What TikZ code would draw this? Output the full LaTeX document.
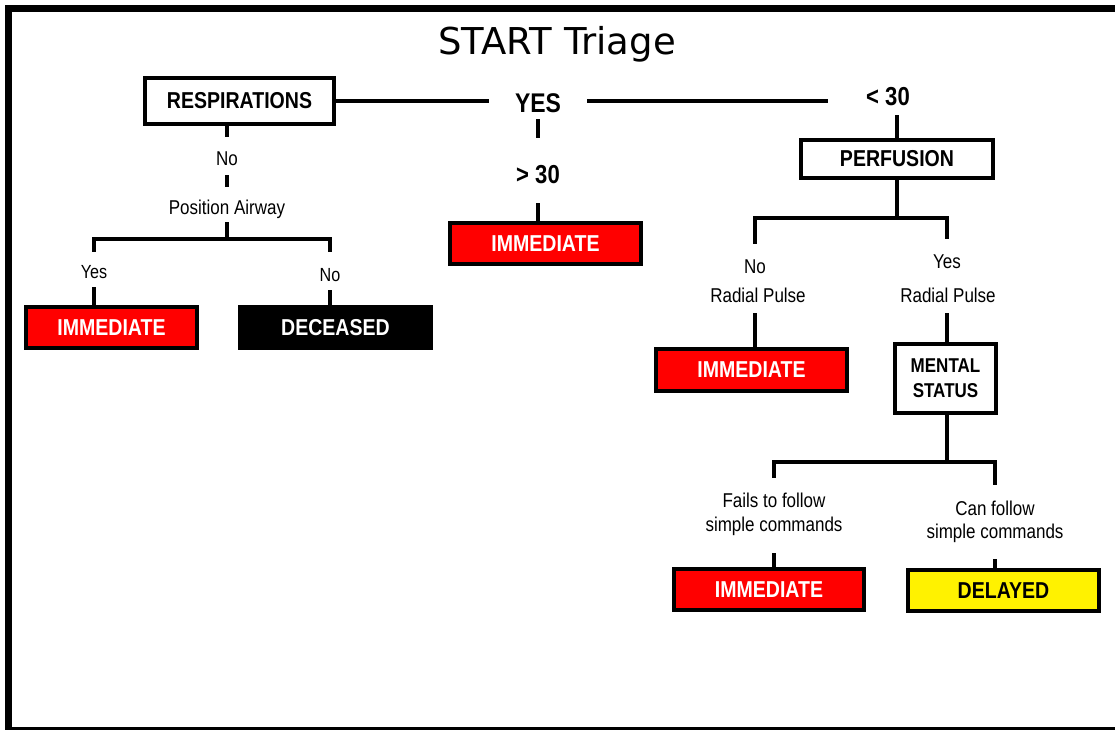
\documentclass[tikz,border=0pt]{standalone}
\usepackage{fontspec}
\setmainfont{Liberation Sans}[FakeStretch=0.85]
\newfontfamily\titlefont{DejaVu Sans}
\usetikzlibrary{calc}
\tikzset{
  conn/.style={line width=3.4pt},
  box/.style={draw=black, line width=4pt, inner sep=0pt, text=black,
    font=\fontsize{23}{26}\selectfont\bfseries,
    minimum width=191pt, minimum height=41pt},
  redbox/.style={box, fill=red, text=white},
  lbl/.style={inner sep=0pt, anchor=base, font=\fontsize{20}{24}\selectfont},
  biglbl/.style={inner sep=0pt, anchor=base, font=\fontsize{26}{30}\selectfont\bfseries},
}
\begin{document}
\begin{tikzpicture}[x=1pt,y=-1pt]
\useasboundingbox (0,0) rectangle (1115,730);
% frame
\fill[black] (5,5) rectangle (1115,12);
\fill[black] (5,5) rectangle (12,730);
\fill[black] (5,727) rectangle (1115,730);

% title
\node[inner sep=0pt, anchor=base, font=\titlefont\fontsize{37}{40}\selectfont] (title) at (557,55) {START Triage};

% boxes
\node[box, fill=white, minimum width=189pt, minimum height=46pt] (resp) at (239.5,101) {RESPIRATIONS};
\node[redbox] (imm1) at (545.5,243.5) {IMMEDIATE};
\node[box, fill=white, minimum width=192pt, minimum height=38pt] (perf) at (897,159) {PERFUSION};
\node[redbox, minimum width=171pt] (immL) at (111.5,327.5) {IMMEDIATE};
\node[box, fill=black, text=white] (dec) at (335.5,327.5) {DECEASED};
\node[redbox, minimum height=42pt] (immR) at (751.5,370) {IMMEDIATE};
\node[box, fill=white, minimum width=101pt, minimum height=69pt, align=center,
      font=\fontsize{20}{25}\selectfont\bfseries] (ms) at (945.5,378.5) {MENTAL\\STATUS};
\node[redbox, minimum width=190pt] (immB) at (769,589.5) {IMMEDIATE};
\node[box, fill=yellow] (del) at (1003.5,590.5) {DELAYED};

% labels
\node[biglbl, font=\fontsize{27}{30}\selectfont\bfseries, text height=19pt, text depth=6pt, inner xsep=26pt] (yes) at (538,113) {YES};
\node[biglbl, text height=19pt, text depth=9pt, inner xsep=38pt] (lt30) at (888,106) {< 30};
\node[biglbl, text height=45pt, text depth=20pt] (gt30) at (538,183) {> 30};

\node[lbl, text height=28pt, text depth=10pt] (no1) at (227,165) {No};
\node[lbl, text height=27pt, text depth=8pt] (posair) at (227,214) {Position Airway};
\node[lbl, font=\fontsize{19}{22}\selectfont, text height=26pt, text depth=9pt] (yesL) at (94,278) {Yes};
\node[lbl, font=\fontsize{19}{22}\selectfont, text height=29pt, text depth=9pt] (noL) at (330,281) {No};

\node[lbl, text height=29pt, text depth=5pt] (noRP) at (755,273) {No};
\node[lbl, text height=14pt, text depth=11pt] (rp1) at (758,302) {Radial Pulse};
\node[lbl, text height=29pt, text depth=5pt] (yesRP) at (947,268) {Yes};
\node[lbl, text height=14pt, text depth=11pt] (rp2) at (948,302) {Radial Pulse};

\node[lbl, text height=29pt, text depth=5pt] (fails1) at (774,507) {Fails to follow};
\node[lbl, text height=14pt, text depth=22pt] (fails2) at (774,531) {simple commands};
\node[lbl, text height=30pt, text depth=5pt] (can1) at (995,515) {Can follow};
\node[lbl, text height=14pt, text depth=21pt] (can2) at (995,538) {simple commands};

% fork points
\coordinate (fL) at (227,239);
\coordinate (fR) at (897,218);
\coordinate (fM) at (947,462);

% connectors
\draw[conn] (resp.east) -- (resp.east -| yes.west);
\draw[conn] (yes.east |- resp.east) -- (lt30.west |- resp.east);
\draw[conn] (yes.south) -- (gt30.north);
\draw[conn] (gt30.south) -- (gt30.south |- imm1.north);

\draw[conn] (no1.north |- resp.south) -- (no1.north);
\draw[conn] (no1.south) -- (posair.north);
\draw[conn] (posair.south) -- (fL);
\draw[conn] (yesL.north) |- (fL) -| (noL.north);
\draw[conn] (yesL.south) -- (yesL.south |- immL.north);
\draw[conn] (noL.south) -- (noL.south |- dec.north);

\draw[conn] (lt30.south -| perf.north) -- (perf.north);
\draw[conn] (perf.south) -- (fR);
\draw[conn] (noRP.north) |- (fR) -| (yesRP.north);
\draw[conn] (rp1.south -| noRP.north) -- (immR.north -| noRP.north);
\draw[conn] (rp2.south -| yesRP.north) -- (ms.north -| yesRP.north);
\draw[conn] (ms.south -| fM) -- (fM);
\draw[conn] (fails1.north) |- (fM) -| (can1.north);
\draw[conn] (fails2.south) -- (fails2.south |- immB.north);
\draw[conn] (can2.south) -- (can2.south |- del.north);
\end{tikzpicture}
\end{document}
